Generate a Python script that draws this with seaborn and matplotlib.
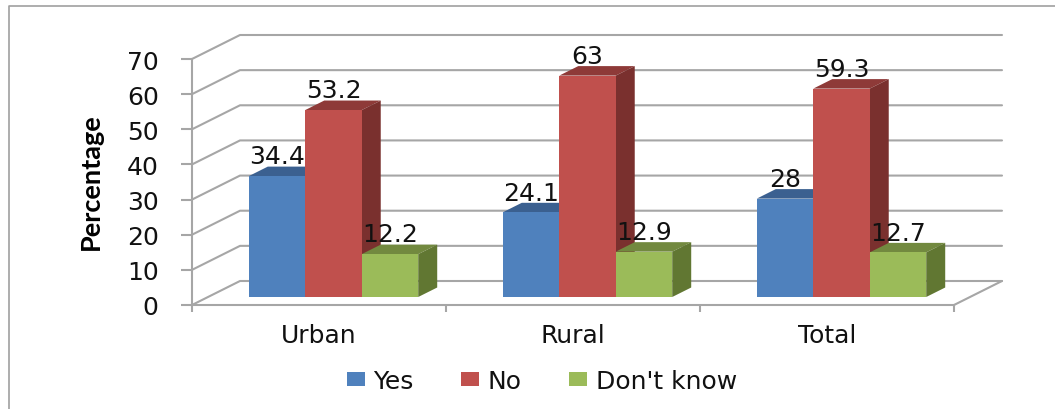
import numpy as np
import pandas as pd
import matplotlib
matplotlib.use("Agg")
import matplotlib.pyplot as plt
from matplotlib.patches import Polygon, Patch
from matplotlib.lines import Line2D
import seaborn as sns

categories = ["Urban", "Rural", "Total"]
yes_values = [34.4, 24.1, 28]
no_values = [53.2, 63, 59.3]
dont_know_values = [12.2, 12.9, 12.7]
series_names = ["Yes", "No", "Don't know"]
y_ticks = [0, 10, 20, 30, 40, 50, 60, 70]
front_colors = ["#4F81BD", "#C0504D", "#9BBB59"]
top_colors = ["#3B6090", "#8E3A38", "#72893F"]
side_colors = ["#32527B", "#7A302E", "#617732"]

df = pd.DataFrame({"cat": categories * 3,
                   "series": np.repeat(series_names, 3),
                   "value": yes_values + no_values + dont_know_values})

W, H = 1055, 410
FS = 18
sns.set_theme(style="white")
plt.rcParams["font.family"] = ["DejaVu Sans"]
fig = plt.figure(figsize=(W / 100, H / 100), dpi=100, facecolor="white")

def box(x0, x1, ybot, ytop):
    return [x0 / W, 1 - ybot / H, (x1 - x0) / W, (ybot - ytop) / H]

GRID = "#A6A6A6"
ax = fig.add_axes(box(192, 954, 306, 60))
ax.set_xlim(0, 3)
ax.set_ylim(0, 70)
ax.patch.set_alpha(0)
for s in ["top", "right"]:
    ax.spines[s].set_visible(False)
for s in ["left", "bottom"]:
    ax.spines[s].set_color(GRID)
    ax.spines[s].set_linewidth(1.5)
ax.set_yticks(y_ticks)
ax.set_xticks([0, 1, 2, 3])
ax.set_xticklabels([])
ax.set_xticks([0.5, 1.5, 2.5], labels=categories, minor=True)
ax.tick_params(axis="x", which="major", length=5, width=1.5, color=GRID, bottom=True)
ax.tick_params(axis="x", which="minor", length=0, labelsize=FS, pad=13, colors="#111111")
ax.tick_params(axis="y", which="major", length=8, width=1.5, color=GRID, left=True,
               labelsize=FS, pad=16, labelcolor="#111111")
ax.set_ylabel("Percentage", family=["Lato", "DejaVu Sans"],
              fontweight="bold", fontsize=19.5, color="black", labelpad=0)
ax.yaxis.set_label_coords((91 - 192) / 762, (306 - 182) / 246)
ax.yaxis.label.set_verticalalignment("center")

# wall depth expressed in the front axes' data units
dx = 48 / 254
dy = 24 / (246 / 70)
for t in y_ticks:
    ax.add_line(Line2D([0, dx, 3 + dx], [t, t + dy, t + dy], color=GRID, lw=1.5,
                       clip_on=False, zorder=1))
ax.add_line(Line2D([3, 3 + dx], [0, dy], color=GRID, lw=1.5, clip_on=False, zorder=1))

# bars sit on a plane a third of the way into the floor
bar_ax = fig.add_axes(box(206.5, 968.5, 298, 52))
bar_ax.patch.set_alpha(0)
bar_ax.set_axis_off()
sns.barplot(data=df, x="cat", y="value", hue="series",
            hue_order=series_names, palette=front_colors, width=0.667, gap=0,
            saturation=1, legend=False, ax=bar_ax, errorbar=None)
bar_ax.set_xlim(-0.5, 2.5)
bar_ax.set_ylim(0, 70)

bdx = 19 / 254
bdy = 9.5 / (246 / 70)
for i, cont in enumerate(bar_ax.containers):
    for p in cont.patches:
        p.set_zorder(3 + 2 * i)
        p.set_edgecolor("none")
        x0, x1, h = p.get_x(), p.get_x() + p.get_width(), p.get_height()
        bar_ax.add_patch(Polygon([(x0, h), (x1, h), (x1 + bdx, h + bdy), (x0 + bdx, h + bdy)],
                                 fc=top_colors[i], ec="none", zorder=2 + 2 * i, clip_on=False))
        bar_ax.add_patch(Polygon([(x1, 0), (x1 + bdx, bdy), (x1 + bdx, h + bdy), (x1, h)],
                                 fc=side_colors[i], ec="none", zorder=2 + 2 * i, clip_on=False))
    for t in bar_ax.bar_label(cont, fmt="%g", padding=5.5, fontsize=FS, color="#111111"):
        t.set_zorder(20)

handles = [Patch(fc=c, ec="none", label=n) for c, n in zip(front_colors, series_names)]
fig.legend(handles=handles, ncol=3, loc="center", bbox_to_anchor=(542 / W, 1 - 382 / H),
           frameon=False, fontsize=FS, handlelength=0.72, handleheight=0.48,
           handletextpad=0.35, columnspacing=1.9, labelcolor="#111111")

# picture frame: left and top edges only
fig.add_artist(Line2D([8.5 / W, 8.5 / W, 1], [0, 1 - 6.5 / H, 1 - 6.5 / H],
                      color="#A0A0A0", lw=1.2))
fig.savefig("out.png", dpi=100, facecolor="white")
